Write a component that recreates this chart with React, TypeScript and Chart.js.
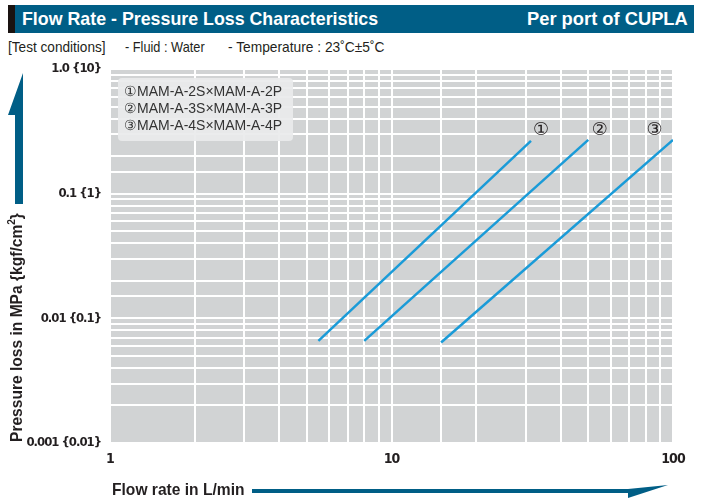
import React, { useEffect, useLayoutEffect, useRef } from "react";
import { Chart, registerables } from "chart.js";

Chart.register(...registerables);

// ---- data ----
const seriesNames = ["①MAM-A-2S×MAM-A-2P", "②MAM-A-3S×MAM-A-3P", "③MAM-A-4S×MAM-A-4P"];
const seriesMarkers = ["①", "②", "③"];
const flow1 = [5.5, 31.3];
const loss1 = [0.0066, 0.265];
const flow2 = [8, 50];
const loss2 = [0.0066, 0.27];
const flow3 = [15, 100];
const loss3 = [0.0064, 0.27];
const markerFlow = [34, 55, 86];
const markerLoss = [0.32, 0.32, 0.32];
const xTickLabels = ["1", "10", "100"]; // 10^0, 10^1, 10^2
const yTickLabels = ["0.001 {0.01}", "0.01 {0.1}", "0.1 {1}", "1.0 {10}"]; // 10^-3 .. 10^0

const TICKFONT = "'DejaVu Sans Condensed', 'Liberation Sans', Arial, sans-serif";
const HFONT = "'Liberation Sans', Arial, sans-serif";
const TEAL = "#005e86";
const LINE = "#1a9bd8";
const INK = "#231f20";

function decadeIndex(v: number): number | null {
  const l = Math.log10(v);
  const r = Math.round(l);
  return Math.abs(l - r) < 1e-6 ? r : null;
}

const bgPlugin = {
  id: "plotBg",
  beforeUpdate(chart: any) {
    (chart.ctx as any).letterSpacing = "-1px";
  },
  beforeDraw(chart: any) {
    const { ctx, chartArea: a } = chart;
    ctx.save();
    ctx.fillStyle = "#d1d3d4";
    ctx.fillRect(a.left, a.top, a.right - a.left, a.bottom - a.top);
    ctx.restore();
    (ctx as any).letterSpacing = "-1px";
  },
};

const markerPlugin = {
  id: "seriesMarkers",
  afterDatasetsDraw(chart: any) {
    const { ctx, scales } = chart;
    ctx.save();
    (ctx as any).letterSpacing = "0px";
    ctx.fillStyle = INK;
    ctx.font = "18px 'DejaVu Sans', sans-serif";
    ctx.textAlign = "center";
    ctx.textBaseline = "middle";
    seriesMarkers.forEach((m, i) => {
      const x = scales.x.getPixelForValue(markerFlow[i]);
      const y = scales.y.getPixelForValue(markerLoss[i]);
      ctx.fillText(m, x, y);
    });
    ctx.restore();
  },
};

function toPoints(xs: number[], ys: number[]) {
  return xs.map((x, i) => ({ x, y: ys[i] }));
}

// Text that is horizontally condensed to a target width (condensed-font look)
function FitText(props: { left: number; top: number; width: number; height: number; style?: any; children: any }) {
  const ref = useRef<HTMLSpanElement>(null);
  useLayoutEffect(() => {
    const fit = () => {
      const el = ref.current;
      if (!el) return;
      el.style.transform = "none";
      const w = el.offsetWidth;
      if (w > 0) el.style.transform = `scaleX(${props.width / w})`;
    };
    fit();
    if ((document as any).fonts && (document as any).fonts.ready) (document as any).fonts.ready.then(fit);
  }, []);
  return (
    <span
      ref={ref}
      style={{
        position: "absolute",
        left: props.left,
        top: props.top,
        height: props.height,
        lineHeight: props.height + "px",
        whiteSpace: "nowrap",
        display: "inline-block",
        transformOrigin: "left center",
        ...props.style,
      }}
    >
      {props.children}
    </span>
  );
}

export default function App() {
  const ref = useRef<HTMLCanvasElement>(null);

  useEffect(() => {
    if (!ref.current) return;
    const mk = (label: string, xs: number[], ys: number[]) => ({
      label,
      data: toPoints(xs, ys),
      borderColor: LINE,
      backgroundColor: LINE,
      borderWidth: 2.5,
      pointRadius: 0,
      showLine: true,
      fill: false,
    });
    const chart = new Chart(ref.current, {
      type: "scatter",
      data: {
        datasets: [
          mk(seriesNames[0], flow1, loss1),
          mk(seriesNames[1], flow2, loss2),
          mk(seriesNames[2], flow3, loss3),
        ],
      },
      options: {
        responsive: false,
        animation: false,
        layout: { padding: { left: 0, top: 69, right: 29, bottom: 0 } },
        plugins: { legend: { display: false }, tooltip: { enabled: false }, title: { display: false } },
        scales: {
          x: {
            type: "logarithmic",
            min: 1,
            max: 100,
            border: { display: false },
            grid: { color: "#ffffff", lineWidth: 2, drawTicks: false },
            afterFit(scale: any) {
              scale.height = 56;
            },
            ticks: {
              autoSkip: false,
              maxRotation: 0,
              padding: 8,
              color: INK,
              font: { family: TICKFONT, weight: "bold", size: 14 },
              callback(v: any) {
                const d = decadeIndex(Number(v));
                return d === null ? "" : xTickLabels[d] ?? "";
              },
            },
          },
          y: {
            type: "logarithmic",
            min: 0.001,
            max: 1,
            border: { display: false },
            grid: { color: "#ffffff", lineWidth: 2, drawTicks: false },
            afterFit(scale: any) {
              scale.width = 110;
            },
            ticks: {
              autoSkip: false,
              padding: 9,
              color: INK,
              font: { family: TICKFONT, weight: "bold", size: 13 },
              callback(v: any) {
                const d = decadeIndex(Number(v));
                return d === null ? "" : yTickLabels[d + 3] ?? "";
              },
            },
          },
        },
      },
      plugins: [bgPlugin, markerPlugin],
    } as any);
    return () => chart.destroy();
  }, []);

  const white = { color: "#fff", fontFamily: HFONT, fontWeight: "bold", fontSize: 19 };
  const cond = { color: INK, fontFamily: HFONT, fontSize: 15 };
  const bold = { color: INK, fontFamily: HFONT, fontWeight: "bold", fontSize: 17 };

  return (
    <div style={{ position: "absolute", left: 0, top: 0, width: 702, height: 499, background: "#fff", overflow: "hidden" }}>
      {/* header bar */}
      <div style={{ position: "absolute", left: 8, top: 5, width: 686, height: 28, background: TEAL }} />
      <div style={{ position: "absolute", left: 8, top: 5, width: 7, height: 28, background: "#1a1311" }} />
      <FitText left={22} top={5} width={356} height={28} style={white}>
        Flow Rate - Pressure Loss Characteristics
      </FitText>
      <FitText left={527} top={5} width={161} height={28} style={white}>
        Per port of CUPLA
      </FitText>

      {/* test conditions */}
      <FitText left={8} top={38} width={98} height={18} style={cond}>
        [Test conditions]
      </FitText>
      <FitText left={125} top={38} width={80} height={18} style={cond}>
        - Fluid : Water
      </FitText>
      <FitText left={228} top={38} width={157} height={18} style={cond}>
        - Temperature : 23˚C±5˚C
      </FitText>

      <canvas ref={ref} width={702} height={499} style={{ position: "absolute", left: 0, top: 0, width: 702, height: 499 }} />

      {/* legend box */}
      <div style={{ position: "absolute", left: 118, top: 78, width: 175, height: 63, background: "rgba(233,234,235,0.92)", borderRadius: 4 }}>
        {seriesNames.map((n, i) => (
          <div key={i} style={{ position: "absolute", left: 6, top: 5 + i * 17, height: 17, lineHeight: "17px", fontFamily: HFONT, fontSize: 14, color: "#333", whiteSpace: "nowrap" }}>
            {n}
          </div>
        ))}
      </div>

      {/* arrows */}
      <svg width={702} height={499} style={{ position: "absolute", left: 0, top: 0, pointerEvents: "none" }}>
        <polygon points="23,73 8,115 15,115 15,204 23,204" fill={TEAL} />
        <polygon points="252,489 628,489 668,485 628,498 628,493 252,493" fill={TEAL} />
      </svg>

      {/* y axis title (rotated) */}
      <div style={{ position: "absolute", left: 7, top: 442, width: 0, height: 0, transform: "rotate(-90deg)", transformOrigin: "0 0" }}>
        <FitText left={0} top={0} width={229} height={20} style={bold}>
          Pressure loss in MPa {"{"}kgf/cm<sup style={{ fontSize: 11, lineHeight: 0 }}>2</sup>{"}"}
        </FitText>
      </div>

      {/* x axis title */}
      <FitText left={112} top={480} width={133} height={20} style={bold}>
        Flow rate in L/min
      </FitText>
    </div>
  );
}
